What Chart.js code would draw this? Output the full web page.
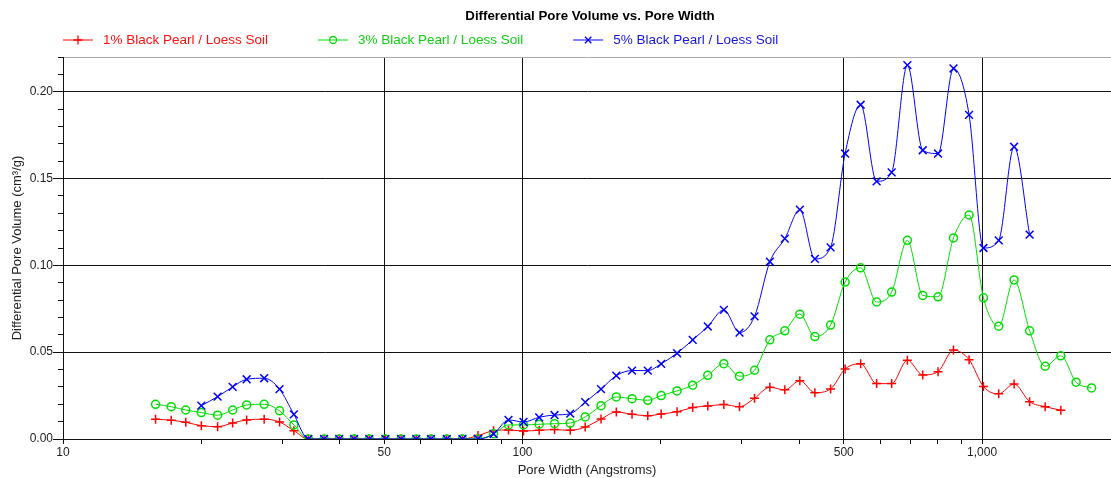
<!DOCTYPE html>
<html>
<head>
<meta charset="utf-8">
<title>Differential Pore Volume vs. Pore Width</title>
<script src="https://cdn.jsdelivr.net/npm/chart.js@4/dist/chart.umd.min.js"></script>
<style>
  html, body { margin: 0; padding: 0; background: #fff; }
</style>
</head>
<body>
<canvas id="poreChart" width="1111" height="478"></canvas>
<script>
// pore width (Angstroms) shared by all three samples
const poreWidth = [15.9, 17.2, 18.5, 20.0, 21.7, 23.4, 25.1, 27.4, 29.6, 31.8,
  34.2, 37.0, 39.9, 43.0, 46.4, 50.3, 54.4, 58.7, 63.2, 68.4,
  74.0, 80.0, 86.5, 93.2, 100.5, 108.7, 117.4, 127.0, 136.9, 148.2,
  160.0, 173.1, 187.3, 200.3, 216.9, 234.6, 253.0, 274.2, 296.6, 319.8,
  345.3, 372.2, 401.3, 432.7, 468.1, 503.5, 544.2, 589.6, 635.7, 687.8,
  742.8, 802.0, 866.6, 937.0, 1007, 1087, 1174, 1269, 1372, 1484,
  1602, 1731];

// differential pore volume (cm3/g)
const vol1 = [0.0114, 0.0108, 0.0096, 0.0077, 0.0071, 0.0092, 0.0110, 0.0114, 0.0098, 0.0048,
  0, 0, 0, 0, 0, 0, 0, 0, 0, 0,
  0, 0.0020, 0.0048, 0.0052, 0.0046, 0.0050, 0.0054, 0.0050, 0.0069, 0.0115,
  0.0156, 0.0142, 0.0134, 0.0144, 0.0157, 0.0181, 0.0190, 0.0198, 0.0186, 0.0235,
  0.0298, 0.0283, 0.0336, 0.0267, 0.0288, 0.0403, 0.0433, 0.0319, 0.0319, 0.0454,
  0.0369, 0.0388, 0.0512, 0.0457, 0.0302, 0.0260, 0.0317, 0.0215, 0.0186, 0.0166,
  null, null];

const vol3 = [0.0200, 0.0186, 0.0167, 0.0152, 0.0137, 0.0167, 0.0196, 0.0200, 0.0162, 0.0081,
  0, 0, 0, 0, 0, 0, 0, 0, 0, 0,
  0, 0, 0.0030, 0.0081, 0.0081, 0.0085, 0.0088, 0.0092, 0.0127, 0.0192,
  0.0242, 0.0232, 0.0223, 0.0250, 0.0277, 0.0310, 0.0367, 0.0434, 0.0362, 0.0396,
  0.0571, 0.0623, 0.0719, 0.0590, 0.0656, 0.0904, 0.0986, 0.0789, 0.0846, 0.1144,
  0.0827, 0.0819, 0.1158, 0.1290, 0.0813, 0.0650, 0.0916, 0.0623, 0.0419, 0.0479,
  0.0327, 0.0294];

const vol5 = [null, null, null, 0.0192, 0.0244, 0.0300, 0.0344, 0.0350, 0.0287, 0.0142,
  0, 0, 0, 0, 0, 0, 0, 0, 0, 0,
  0, 0, 0.0029, 0.0110, 0.0098, 0.0125, 0.0138, 0.0146, 0.0212, 0.0287,
  0.0365, 0.0394, 0.0394, 0.0433, 0.0494, 0.0571, 0.0648, 0.0744, 0.0613, 0.0706,
  0.1021, 0.1154, 0.1321, 0.1037, 0.1104, 0.1644, 0.1925, 0.1484, 0.1536, 0.2153,
  0.1663, 0.1644, 0.2134, 0.1867, 0.1100, 0.1144, 0.1683, 0.1177, null, null,
  null, null];

const seriesNames = ['1% Black Pearl / Loess Soil', '3% Black Pearl / Loess Soil', '5% Black Pearl / Loess Soil'];
const chartTitle = 'Differential Pore Volume vs. Pore Width';

// x axis ticks: every decade step, labels and grid lines only on a few
const xTicks = [10, 20, 30, 40, 50, 60, 70, 80, 90, 100, 200, 300, 400, 500, 600, 700, 800, 900, 1000];
const xTickLabels = [10, 50, 100, 500, 1000];
const xGridValues = [50, 100, 500, 1000];
// y axis: minor tick every 0.01, labelled every 0.05
const yTicks = [0, 0.01, 0.02, 0.03, 0.04, 0.05, 0.06, 0.07, 0.08, 0.09, 0.10,
  0.11, 0.12, 0.13, 0.14, 0.15, 0.16, 0.17, 0.18, 0.19, 0.20, 0.21, 0.22];

const FONT = '"Liberation Sans", Arial, sans-serif';
Chart.defaults.font.family = FONT;
Chart.defaults.color = '#000';

function toPoints(values) {
  const pts = [];
  values.forEach((v, i) => {
    if (v !== null) pts.push({ x: poreWidth[i], y: v });
  });
  return pts;
}

function drawMarker(ctx, style, x, y, r) {
  ctx.beginPath();
  if (style === 'cross') {
    ctx.moveTo(x - r, y); ctx.lineTo(x + r, y);
    ctx.moveTo(x, y - r); ctx.lineTo(x, y + r);
  } else if (style === 'crossRot') {
    const d = r * 0.7071;
    ctx.moveTo(x - d, y - d); ctx.lineTo(x + d, y + d);
    ctx.moveTo(x - d, y + d); ctx.lineTo(x + d, y - d);
  } else {
    ctx.arc(x, y, r, 0, Math.PI * 2);
  }
  ctx.stroke();
}

// title and the one-row legend above the plot
const headerPlugin = {
  id: 'header',
  afterDraw(chart) {
    const ctx = chart.ctx;
    const area = chart.chartArea;
    ctx.save();
    ctx.fillStyle = '#000';
    ctx.font = 'bold 13.3px ' + FONT;
    ctx.textAlign = 'center';
    ctx.textBaseline = 'middle';
    ctx.fillText(chartTitle, (area.left + area.right) / 2 + 3, 16);

    ctx.font = '13.5px ' + FONT;
    ctx.textAlign = 'left';
    let x = area.left;
    const y = 40;
    chart.data.datasets.forEach(ds => {
      ctx.strokeStyle = ds.borderColor;
      ctx.lineWidth = 1;
      ctx.beginPath();
      ctx.moveTo(x, y);
      ctx.lineTo(x + 30, y);
      ctx.stroke();
      ctx.lineWidth = 1.3;
      drawMarker(ctx, ds.pointStyle, x + 15, y, ds.pointStyle === 'circle' ? 3.5 : 4.5);
      ctx.fillStyle = ds.labelColor;
      ctx.fillText(ds.label, x + 40, y);
      x += 40 + ctx.measureText(ds.label).width + 50;
    });
    ctx.restore();
  }
};

new Chart(document.getElementById('poreChart'), {
  type: 'line',
  data: {
    datasets: [
      {
        label: seriesNames[0],
        data: toPoints(vol1),
        borderColor: '#ff0000',
        labelColor: '#ff1010',
        pointStyle: 'cross',
        pointRadius: 4.5,
        order: 2
      },
      {
        label: seriesNames[1],
        data: toPoints(vol3),
        borderColor: '#00dd00',
        labelColor: '#10d010',
        pointStyle: 'circle',
        pointRadius: 4,
        order: 1
      },
      {
        label: seriesNames[2],
        data: toPoints(vol5),
        borderColor: '#0000ff',
        labelColor: '#1515e0',
        pointStyle: 'crossRot',
        pointRadius: 5.5,
        order: 0
      }
    ].map(ds => Object.assign({
      borderWidth: 1,
      pointBorderColor: ds.borderColor,
      pointBackgroundColor: 'transparent',
      pointBorderWidth: 1.5,
      pointHoverRadius: ds.pointRadius,
      fill: false,
      cubicInterpolationMode: 'monotone'
    }, ds))
  },
  options: {
    responsive: false,
    animation: false,
    devicePixelRatio: 1,
    layout: { autoPadding: false, padding: { top: 57, left: 0, right: 0, bottom: 0 } },
    plugins: {
      legend: { display: false },
      title: { display: false },
      tooltip: { enabled: false }
    },
    scales: {
      x: {
        type: 'logarithmic',
        min: 10,
        max: 1908,
        afterBuildTicks: scale => {
          scale.ticks = xTicks.map(v => ({ value: v }));
        },
        afterFit: scale => {
          scale.height = 39;
          scale.paddingLeft = 0;
          scale.paddingRight = 0;
        },
        ticks: {
          autoSkip: false,
          maxRotation: 0,
          padding: 1,
          font: { size: 12 },
          color: '#222',
          callback: value => xTickLabels.includes(value) ? value.toLocaleString('en-US') : ''
        },
        grid: {
          color: ctx => xGridValues.includes(ctx.tick.value) ? '#111' : 'rgba(0,0,0,0)',
          tickColor: '#111',
          tickLength: 5,
          lineWidth: 1
        },
        border: { display: true, color: '#111', width: 1 },
        title: {
          display: true,
          text: 'Pore Width (Angstroms)',
          font: { size: 13 },
          color: '#222',
          padding: { top: 0, bottom: 0 }
        }
      },
      y: {
        type: 'linear',
        min: 0,
        max: 0.22,
        afterBuildTicks: scale => {
          scale.ticks = yTicks.map(v => ({ value: v }));
        },
        afterFit: scale => {
          scale.width = 63;
          scale.paddingTop = 0;
          scale.paddingBottom = 0;
        },
        ticks: {
          autoSkip: false,
          padding: 0,
          font: { size: 12 },
          color: '#222',
          callback: (value, index) => index % 5 === 0 ? value.toFixed(2) : ''
        },
        grid: {
          color: ctx => {
            if (ctx.index === yTicks.length - 1) return '#aaa';
            return ctx.index % 5 === 0 ? '#111' : 'rgba(0,0,0,0)';
          },
          tickColor: '#111',
          tickLength: 10,
          tickBorderDash: ctx => ctx.index % 5 === 0 ? [] : [5, 5],
          tickBorderDashOffset: ctx => ctx.index % 5 === 0 ? 0 : 5,
          lineWidth: 1
        },
        border: { display: true, color: '#111', width: 1 },
        title: {
          display: true,
          text: 'Differential Pore Volume (cm³/g)',
          font: { size: 13 },
          color: '#222',
          padding: { top: 10, bottom: 0 }
        }
      }
    }
  },
  plugins: [headerPlugin]
});
</script>
</body>
</html>
